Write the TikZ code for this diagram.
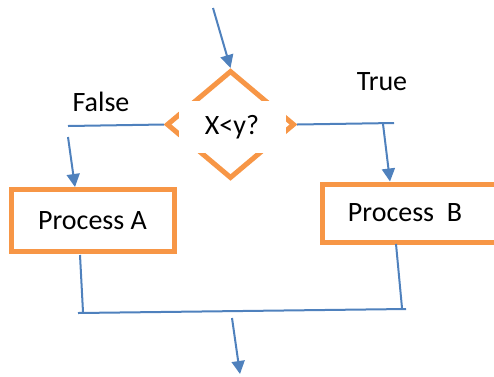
\documentclass[tikz,border=0pt]{standalone}
\usepackage{fontspec}
\setmainfont{Carlito}
\usetikzlibrary{shapes.geometric,arrows.meta}
\definecolor{boxorange}{RGB}{247,150,70}
\definecolor{lineblue}{RGB}{79,129,189}
\begin{document}
\begin{tikzpicture}[x=1pt,y=-1pt,
    font=\fontsize{28}{34}\selectfont,
    box/.style={draw=boxorange,line width=5pt,minimum width=163pt,minimum height=62pt,inner sep=0pt},
    link/.style={draw=lineblue,line width=2pt},
    flow/.style={link,-{Triangle[width=13pt,length=13pt]}}]
\useasboundingbox (0,0) rectangle (494,376);
\node[diamond,draw=boxorange,line width=5pt,minimum width=128pt,minimum height=108pt,inner sep=0pt] (dec) at (230.5,124.5) {};
\node[fill=white,minimum width=107pt,minimum height=52pt,inner sep=0pt] (cond) at (232,127) {X<y?};
\node[box] (procA) at (92.5,220.5) {Process A};
\node[box,minimum width=178pt,minimum height=58pt] (procB) at (411,213) {\hspace*{-6pt}Process~~B\hspace*{6pt}};
\node (lfalse) at (101,102) {False};
\node (ltrue) at (382,82) {True};
\coordinate (start) at (213,8);
\coordinate (fl) at (68,126);
\coordinate (fa) at (68,137);
\coordinate (tr) at (394,123);
\coordinate (tb) at (383,124);
\coordinate (aout) at (80,255);
\coordinate (bout) at (396,244);
\coordinate (ja) at (83,312);
\coordinate (jb) at (402,308);
\coordinate (jl) at (78,313);
\coordinate (jr) at (406,309);
\coordinate (down) at (232,318);
\coordinate (stop) at (240,374);
% decision in and out
\draw[flow] (start) -- (dec.north);
\draw[link] (dec.west) -- (fl);
\draw[link] (dec.east) -- (tr);
\draw[flow] (fa) -- (procA.north -| 75,0);
\draw[flow] (tb) -- (procB.north -| 390,0);
% join
\draw[link] (aout) -- (ja);
\draw[link] (bout) -- (jb);
\draw[link] (jl) -- (jr);
\draw[flow] (down) -- (stop);
\end{tikzpicture}
\end{document}
